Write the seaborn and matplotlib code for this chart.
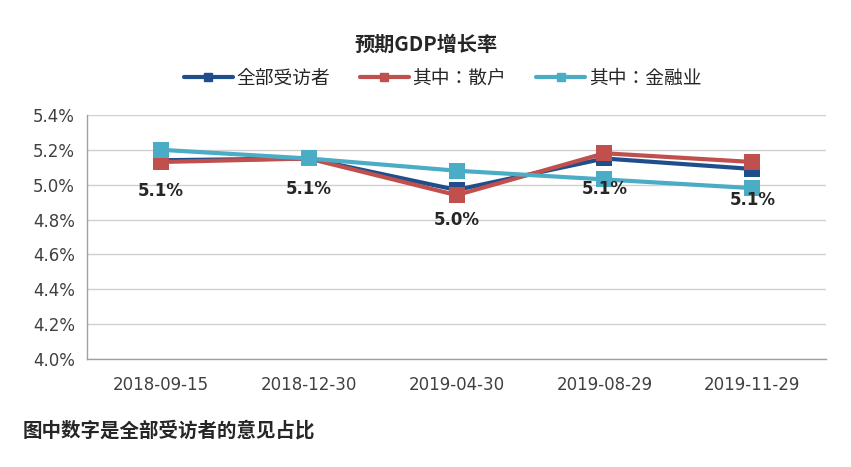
import pandas as pd
import matplotlib.pyplot as plt
import seaborn as sns
from matplotlib.ticker import FuncFormatter, FixedLocator

# chart values (percent)
dates = ['2018-09-15', '2018-12-30', '2019-04-30', '2019-08-29', '2019-11-29']
series_names = ['全部受访者', '其中：散户', '其中：金融业']
all_resp = [5.14, 5.15, 4.97, 5.15, 5.09]
retail = [5.13, 5.15, 4.94, 5.18, 5.13]
finance = [5.20, 5.15, 5.08, 5.03, 4.98]
point_labels = ['5.1%', '5.1%', '5.0%', '5.1%', '5.1%']
colors = ['#1F4E8C', '#C0504D', '#4BACC6']

df = pd.DataFrame({
    'date': dates * 3,
    'value': all_resp + retail + finance,
    'series': [s for s in series_names for _ in dates],
})

sns.set_style('white')
plt.rcParams['font.family'] = ['DejaVu Sans', 'Noto Sans CJK SC']
cjk = ['Noto Sans CJK SC', 'DejaVu Sans']
cjk_leg = ['Noto Sans CJK JP', 'Noto Sans CJK SC', 'DejaVu Sans']

fig = plt.figure(figsize=(8.51, 4.67), dpi=100)
ax = fig.add_axes([0.102, 0.231, 0.869, 0.523])

sns.lineplot(data=df, x='date', y='value', hue='series', style='series',
             hue_order=series_names, style_order=series_names,
             palette=colors, markers=['s', 's', 's'], dashes=False,
             markersize=11, linewidth=3, markeredgewidth=0, sort=False,
             ax=ax, legend=False)

# data labels under the "all respondents" points
for i, (v, lab) in enumerate(zip(all_resp, point_labels)):
    ax.annotate(lab, (i, v), xytext=(0, -22), textcoords='offset points',
                ha='center', va='center', fontsize=12, fontweight='bold')

ax.set_ylim(4.0, 5.4)
ax.set_xlim(-0.5, 4.5)
ax.set_yticks([4.0, 4.2, 4.4, 4.6, 4.8, 5.0, 5.2, 5.4])
ax.yaxis.set_major_formatter(FuncFormatter(lambda v, p: f'{v:.1f}%'))
ax.yaxis.grid(True, color='#D0D0D0', linewidth=1)
ax.set_xlabel('')
ax.set_ylabel('')
ax.tick_params(axis='y', labelsize=12, colors='#404040', length=5,
               color='#A0A0A0', direction='out')
ax.tick_params(axis='x', which='major', labelsize=12, colors='#404040', length=0, pad=12)
ax.xaxis.set_minor_locator(FixedLocator([-0.5, 0.5, 1.5, 2.5, 3.5, 4.5]))
ax.tick_params(axis='x', which='minor', length=5, color='#A0A0A0', direction='out')
for side in ['top', 'right']:
    ax.spines[side].set_visible(False)
for side in ['left', 'bottom']:
    ax.spines[side].set_color('#A0A0A0')
    ax.spines[side].set_linewidth(1)

handles = [plt.Line2D([], [], color=c, linewidth=3, marker='s', markersize=6)
           for c in colors]
fig.legend(handles, series_names, loc='center', bbox_to_anchor=(0.52, 0.833),
           ncol=3, frameon=False, prop={'family': cjk_leg, 'size': 13.5},
           handlelength=2.6, columnspacing=1.6, handletextpad=0.2)

fig.text(0.5, 0.905, '预期GDP增长率', ha='center', va='center',
         fontsize=14.5, fontweight='bold', family=cjk)
fig.text(0.026, 0.078, '图中数字是全部受访者的意见占比', ha='left', va='center',
         fontsize=14, fontweight='bold', family=cjk)

fig.savefig('out.png', dpi=100)
